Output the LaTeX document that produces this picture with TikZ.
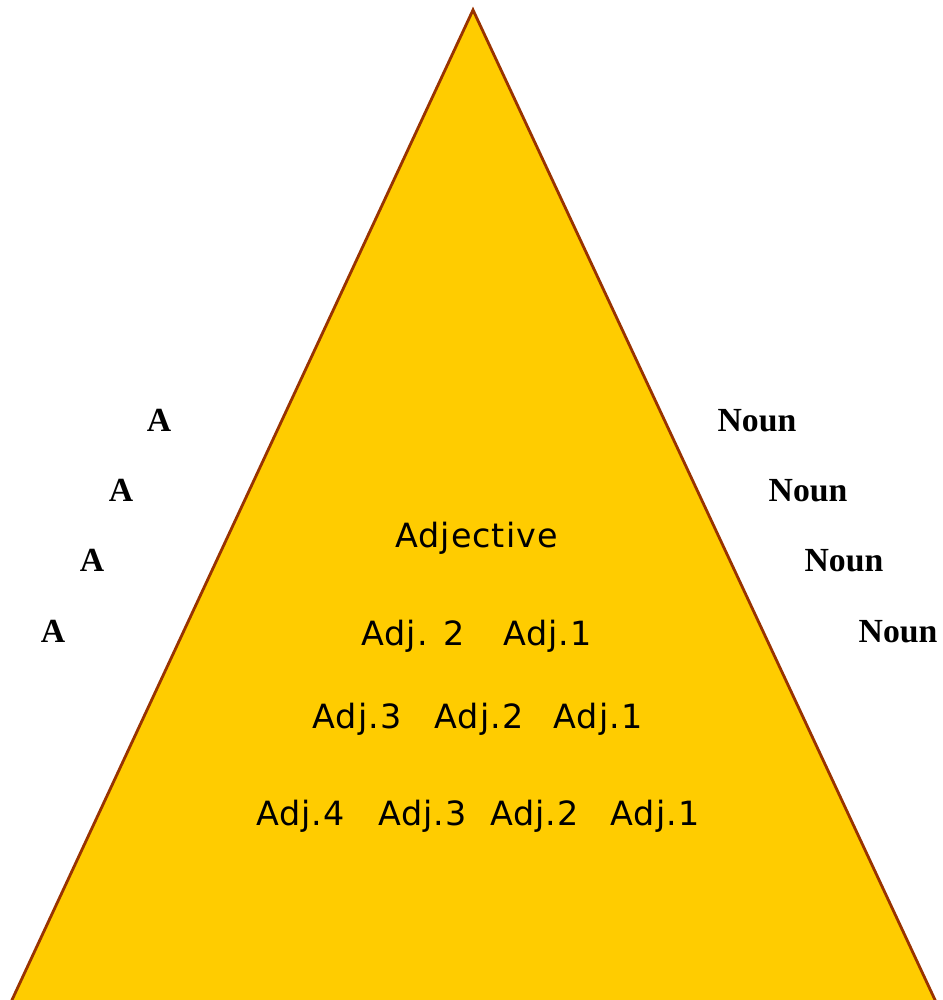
\documentclass[tikz,border=0pt]{standalone}
\usepackage{fontspec}
\setmainfont{Liberation Serif}
\newfontfamily\adjfont[LetterSpace=3]{DejaVu Sans}
\usepackage{tikz}

\definecolor{pyramidfill}{HTML}{FFCC00}
\definecolor{pyramidedge}{HTML}{993300}

\tikzset{
  word/.style={anchor=base, inner sep=0pt, font=\fontsize{9.6}{11}\selectfont\bfseries},
  adj/.style={anchor=base, inner sep=0pt, font=\adjfont\fontsize{9.5}{12}\selectfont}
}

\begin{document}
\begin{tikzpicture}[scale=1]

% Frame
\clip (0,0) rectangle (9.42,10);

% Pyramid
\filldraw[fill=pyramidfill, draw=pyramidedge, line width=0.8pt] (4.73,9.90) -- (0.073,-0.1) -- (9.397,-0.1) -- cycle;

% Articles on the left
\node[word] (a1) at (1.59,5.68) {A};
\node[word] (a2) at (1.21,4.98) {A};
\node[word] (a3) at (0.92,4.28) {A};
\node[word] (a4) at (0.53,3.57) {A};

% Nouns on the right
\node[word] (noun1) at (7.57,5.68) {Noun};
\node[word] (noun2) at (8.08,4.98) {Noun};
\node[word] (noun3) at (8.44,4.28) {Noun};
\node[word] (noun4) at (8.98,3.57) {Noun};

% Adjective order inside
\node[adj] (adjective) at (4.765,4.52) {Adjective};

\node[adj] (twoB) at (4.13,3.54) {Adj. 2};
\node[adj] (twoA) at (5.475,3.54) {Adj.1};

\node[adj] (threeC) at (3.57,2.71) {Adj.3};
\node[adj] (threeB) at (4.79,2.71) {Adj.2};
\node[adj] (threeA) at (5.98,2.71) {Adj.1};

\node[adj] (fourD) at (3.005,1.74) {Adj.4};
\node[adj] (fourC) at (4.225,1.74) {Adj.3};
\node[adj] (fourB) at (5.345,1.74) {Adj.2};
\node[adj] (fourA) at (6.55,1.74) {Adj.1};

\end{tikzpicture}
\end{document}
